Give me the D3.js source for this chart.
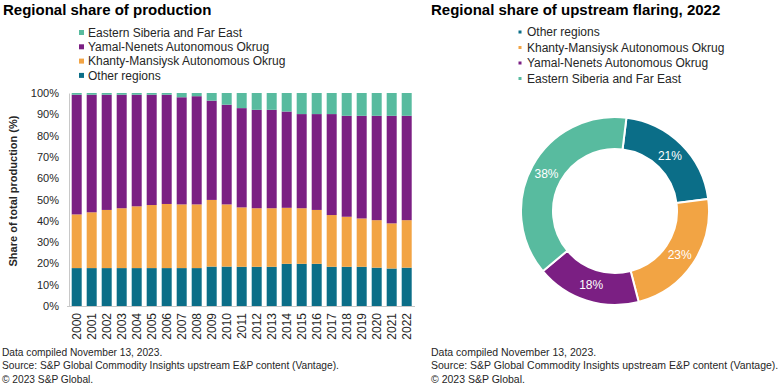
<!DOCTYPE html>
<html>
<head>
<meta charset="utf-8">
<script src="https://cdn.jsdelivr.net/npm/d3@7"></script>
<style>
  body { margin: 0; background: #fff; }
  svg { display: block; font-family: "Liberation Sans", Arial, sans-serif; }
</style>
</head>
<body>
<svg id="chart" width="780" height="390"></svg>
<script>
// ---------- DATA ----------
const years = ["2000","2001","2002","2003","2004","2005","2006","2007","2008","2009","2010","2011","2012","2013","2014","2015","2016","2017","2018","2019","2020","2021","2022"];
const otherRegions = [17.8,17.8,17.8,17.8,17.8,17.8,17.8,17.8,17.8,18.5,18.5,18.4,18.4,18.4,19.8,19.8,19.8,18.4,18.4,18.4,18.0,17.6,18.0];
const khantyMansiysk = [25.2,26.2,27.3,28.1,29.0,29.6,30.1,29.9,29.9,31.3,29.2,27.9,27.5,27.5,26.3,26.1,25.3,24.3,23.5,22.7,22.3,21.2,22.3];
const yamalNenets = [56.2,55.2,54.1,53.3,52.4,51.8,51.3,50.3,50.8,46.6,46.8,46.6,46.2,46.2,45.2,44.2,45.0,47.4,47.4,48.2,49.0,50.5,49.0];
const easternSiberia = [0.8,0.8,0.8,0.8,0.8,0.8,0.8,2.0,1.5,3.6,5.5,7.1,7.9,7.9,8.7,9.9,9.9,9.9,10.7,10.7,10.7,10.7,10.7];
const yTicks = [0,10,20,30,40,50,60,70,80,90,100];

const seriesNames = ["Other regions","Khanty-Mansiysk Autonomous Okrug","Yamal-Nenets Autonomous Okrug","Eastern Siberia and Far East"];
const barLegendOrder = ["Eastern Siberia and Far East","Yamal-Nenets Autonomous Okrug","Khanty-Mansiysk Autonomous Okrug","Other regions"];

const flaringNames = ["Other regions","Khanty-Mansiysk Autonomous Okrug","Yamal-Nenets Autonomous Okrug","Eastern Siberia and Far East"];
const flaringShares = [21,23,18,38];

const colors = {
  "Other regions": "#0b6e88",
  "Khanty-Mansiysk Autonomous Okrug": "#f2a444",
  "Yamal-Nenets Autonomous Okrug": "#7b1f83",
  "Eastern Siberia and Far East": "#58bb9f"
};

const footLines = ["Data compiled November 13, 2023.","Source: S&P Global Commodity Insights upstream E&P content (Vantage).","\u00A9 2023 S&P Global."];

// ---------- SETUP ----------
const svg = d3.select("#chart");
const txt = "#262626";

// ---------- LEFT: stacked bars ----------
svg.append("text").attr("x", 3).attr("y", 15)
  .attr("font-size", 15).attr("font-weight", "bold").attr("fill", "#000")
  .text("Regional share of production");

const legL = svg.append("g");
barLegendOrder.forEach((n, i) => {
  const y = 32.5 + i * 14.3;
  legL.append("rect").attr("x", 79).attr("y", y - 2.5).attr("width", 5).attr("height", 5).attr("fill", colors[n]);
  legL.append("text").attr("x", 88).attr("y", y).attr("dy", "0.35em")
    .attr("font-size", 12).attr("fill", txt).text(n);
});

const x = d3.scaleBand().domain(years).range([69.2, 414.2]).paddingInner(1/3).paddingOuter(1/6);
const y = d3.scaleLinear().domain([0, 100]).range([306, 93]);

const rows = years.map((yr, i) => ({
  year: yr,
  "Other regions": otherRegions[i],
  "Khanty-Mansiysk Autonomous Okrug": khantyMansiysk[i],
  "Yamal-Nenets Autonomous Okrug": yamalNenets[i],
  "Eastern Siberia and Far East": easternSiberia[i]
}));
const stacked = d3.stack().keys(seriesNames)(rows);

svg.append("g").selectAll("g").data(stacked).join("g")
  .attr("fill", d => colors[d.key])
  .selectAll("rect").data(d => d).join("rect")
  .attr("x", d => x(d.data.year))
  .attr("width", x.bandwidth())
  .attr("y", d => y(d[1]))
  .attr("height", d => y(d[0]) - y(d[1]));

// axes
const yAxis = svg.append("g").attr("transform", "translate(69,0)")
  .call(d3.axisLeft(y).tickValues(yTicks).tickFormat(d => d + "%").tickSize(0).tickPadding(10));
yAxis.select(".domain").attr("stroke", "#c8c8c8");
yAxis.selectAll("text").attr("font-size", 11).attr("fill", txt).attr("font-family", "Liberation Sans, Arial, sans-serif");

const xAxis = svg.append("g").attr("transform", "translate(0,306)")
  .call(d3.axisBottom(x).tickSize(0).tickPadding(0));
xAxis.select(".domain").attr("stroke", "#c8c8c8").attr("d", "M67,0.5H415");
xAxis.selectAll("text")
  .attr("font-size", 12).attr("fill", txt).attr("font-family", "Liberation Sans, Arial, sans-serif")
  .attr("transform", "rotate(-90)")
  .attr("text-anchor", "end")
  .attr("x", -7).attr("y", 0).attr("dy", "0.35em");

svg.append("text")
  .attr("transform", "translate(13,191) rotate(-90)")
  .attr("text-anchor", "middle").attr("dy", "0.35em")
  .attr("font-size", 11).attr("font-weight", "bold").attr("fill", txt)
  .text("Share of total production (%)");

footLines.forEach((t, i) => {
  svg.append("text").attr("x", 2).attr("y", 356 + i * 13.3)
    .attr("font-size", 10.2).attr("fill", txt).text(t);
});

// ---------- RIGHT: donut ----------
svg.append("text").attr("x", 431).attr("y", 15)
  .attr("font-size", 15).attr("font-weight", "bold").attr("fill", "#000")
  .text("Regional share of upstream flaring, 2022");

const legR = svg.append("g");
flaringNames.forEach((n, i) => {
  const yy = 32 + i * 15.5;
  legR.append("rect").attr("x", 518.5).attr("y", yy - 1.5).attr("width", 3).attr("height", 3).attr("fill", colors[n]);
  legR.append("text").attr("x", 527).attr("y", yy).attr("dy", "0.35em")
    .attr("font-size", 12).attr("fill", txt).text(n);
});

const cx = 615, cy = 211, rOuter = 94, rInner = 62;
const start = 7 * Math.PI / 180;
const pie = d3.pie().sort(null).value(d => d.v).startAngle(start).endAngle(start + 2 * Math.PI);
const arcs = pie(flaringNames.map((n, i) => ({ n, v: flaringShares[i] })));
const arc = d3.arc().innerRadius(rInner).outerRadius(rOuter);
const labelArc = d3.arc().innerRadius((rInner + rOuter) / 2).outerRadius((rInner + rOuter) / 2);

const dg = svg.append("g").attr("transform", `translate(${cx},${cy})`);
dg.selectAll("path").data(arcs).join("path")
  .attr("d", arc).attr("fill", d => colors[d.data.n])
  .attr("stroke", "#fff").attr("stroke-width", 2);
dg.selectAll("text").data(arcs).join("text")
  .attr("transform", d => `translate(${labelArc.centroid(d)})`)
  .attr("text-anchor", "middle").attr("dy", "0.35em")
  .attr("font-size", 12).attr("fill", "#fff")
  .text(d => d.data.v + "%");

footLines.forEach((t, i) => {
  svg.append("text").attr("x", 431).attr("y", 356 + i * 13.3)
    .attr("font-size", 10.5).attr("fill", txt).text(t);
});
</script>
</body>
</html>
